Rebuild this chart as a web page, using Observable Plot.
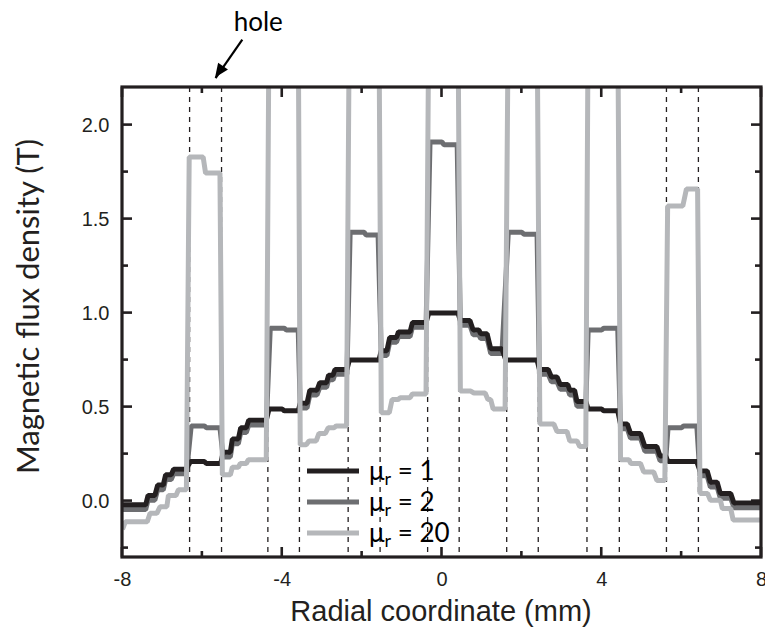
<!DOCTYPE html>
<html><head><meta charset="utf-8">
<script src="https://cdn.jsdelivr.net/npm/d3@7"></script>
<script src="https://cdn.jsdelivr.net/npm/@observablehq/plot@0.6"></script>
<style>
body{margin:0;background:#fff;}
#chart{width:765px;height:642px;}
</style></head><body><div id="chart"></div>
<script>
// ---- data ----
const seriesNames = ["μr = 1", "μr = 2", "μr = 20"];
const seriesColors = ["#231f20", "#6d6e71", "#b5b7ba"];
// plateaus: [x start (mm), x end (mm), B (T)]
const mu1 = [
  [-8.00,-7.42,-0.02],[-7.36,-7.19,0.03],[-7.12,-6.98,0.085],[-6.92,-6.78,0.14],[-6.72,-6.40,0.17],
  [-6.30,-5.95,0.21],[-5.90,-5.54,0.20],
  [-5.48,-5.30,0.26],[-5.25,-5.10,0.33],[-5.04,-4.90,0.39],[-4.84,-4.40,0.43],
  [-4.33,-4.00,0.49],[-3.95,-3.60,0.48],
  [-3.55,-3.38,0.52],[-3.31,-3.13,0.59],[-3.06,-2.89,0.63],[-2.84,-2.73,0.67],[-2.68,-2.38,0.70],
  [-2.32,-1.58,0.75],
  [-1.52,-1.38,0.80],[-1.31,-1.14,0.87],[-1.09,-0.80,0.90],[-0.74,-0.40,0.95],
  [-0.33,0.40,1.00],
  [0.46,0.70,0.96],[0.78,0.92,0.91],[0.97,1.13,0.89],[1.22,1.50,0.81],
  [1.60,2.38,0.75],
  [2.44,2.66,0.70],[2.74,2.88,0.66],[2.96,3.15,0.62],[3.20,3.32,0.59],[3.38,3.60,0.53],
  [3.66,4.00,0.49],[4.05,4.40,0.48],
  [4.47,4.64,0.41],[4.72,4.97,0.36],[5.08,5.38,0.29],[5.46,5.60,0.24],
  [5.66,6.38,0.21],
  [6.46,6.64,0.16],[6.72,6.89,0.10],[6.97,7.23,0.04],[7.31,8.00,-0.01]
];
const mu2 = [
  [-8.00,-7.42,-0.045],[-7.36,-7.19,0.005],[-7.12,-6.98,0.06],[-6.92,-6.78,0.115],[-6.72,-6.40,0.145],
  [-6.28,-5.95,0.40],[-5.90,-5.56,0.39],
  [-5.48,-5.30,0.235],[-5.25,-5.10,0.305],[-5.04,-4.90,0.365],[-4.84,-4.40,0.405],
  [-4.30,-3.95,0.92],[-3.90,-3.60,0.91],
  [-3.55,-3.38,0.495],[-3.31,-3.13,0.565],[-3.06,-2.89,0.605],[-2.84,-2.73,0.645],[-2.68,-2.38,0.675],
  [-2.30,-1.95,1.43],[-1.90,-1.60,1.415],
  [-1.52,-1.38,0.775],[-1.31,-1.14,0.845],[-1.09,-0.80,0.875],[-0.74,-0.40,0.925],
  [-0.30,0.00,1.91],[0.05,0.38,1.895],
  [0.46,0.70,0.935],[0.78,0.92,0.885],[0.97,1.13,0.865],[1.22,1.50,0.785],
  [1.66,2.00,1.43],[2.05,2.38,1.42],
  [2.44,2.66,0.675],[2.74,2.88,0.635],[2.96,3.15,0.595],[3.20,3.32,0.565],[3.38,3.60,0.505],
  [3.66,4.00,0.91],[4.05,4.40,0.92],
  [4.47,4.64,0.385],[4.72,4.97,0.335],[5.08,5.38,0.265],[5.46,5.60,0.215],
  [5.66,6.00,0.39],[6.05,6.38,0.40],
  [6.46,6.64,0.135],[6.72,6.89,0.075],[6.97,7.23,0.015],[7.31,8.00,-0.035]
];
const mu20 = [
  [-8.00,-8.00,-0.15],[-7.93,-7.38,-0.11],[-7.31,-7.14,-0.065],[-7.06,-6.89,-0.03],[-6.85,-6.66,0.03],[-6.60,-6.40,0.06],
  [-6.33,-5.98,1.83],[-5.92,-5.56,1.745],
  [-5.50,-5.30,0.14],[-5.25,-5.10,0.18],[-5.05,-4.90,0.20],[-4.85,-4.40,0.22],
  [-4.33,-3.60,2.60],
  [-3.55,-3.40,0.30],[-3.33,-3.15,0.32],[-3.08,-2.92,0.36],[-2.85,-2.70,0.39],[-2.65,-2.39,0.40],
  [-2.32,-1.58,2.60],
  [-1.52,-1.32,0.47],[-1.25,-1.10,0.54],[-1.05,-0.80,0.55],[-0.74,-0.40,0.57],
  [-0.33,0.40,2.60],
  [0.46,0.72,0.585],[0.80,1.08,0.575],[1.15,1.22,0.54],[1.28,1.58,0.49],
  [1.66,2.38,2.60],
  [2.45,2.80,0.41],[2.88,3.13,0.37],[3.20,3.38,0.32],[3.45,3.60,0.29],
  [3.66,4.40,2.60],
  [4.47,4.68,0.22],[4.73,4.97,0.20],[5.05,5.30,0.155],[5.38,5.58,0.11],
  [5.65,6.03,1.57],[6.12,6.40,1.66],
  [6.46,6.65,0.04],[6.72,6.97,0.005],[7.02,7.23,-0.04],[7.29,8.00,-0.10]
];
const holeEdges = [-6.32,-5.52,-4.36,-3.57,-2.35,-1.55,-0.36,0.43,1.62,2.41,3.63,4.44,5.62,6.42];
const xDomain = [-8, 8];
const yDomain = [-0.3, 2.2];
const xMajor = [-8,-4,0,4,8];
const xMinor = [-6,-2,2,6];
const yMajor = [0,0.5,1,1.5,2];
const yMinor = [-0.25,0.25,0.75,1.25,1.75];
const xLabel = "Radial coordinate (mm)";
const yLabel = "Magnetic flux density (T)";
const holeNote = [{label:"hole", x:-4.6, y:2.545}];
const holeArrow = [{x1:-5.0, y1:2.455, x2:-5.67, y2:2.25}];

// ---- build ----
const toRows = (pl, s) => pl.flatMap(([a,b,v]) => [{x:a, B:v, s}, {x:b, B:v, s}]);
const rows = [toRows(mu1,0), toRows(mu2,1), toRows(mu20,2)];

const W=765, H=642, mL=122, mR=4, mT=87, mB=85;
const ink = "#231f20";
const lineOpts = i => ({x:"x", y:"B", stroke: seriesColors[i], strokeWidth:5, strokeLinejoin:"miter", strokeLinecap:"butt", clip:true});

const chart = Plot.plot({
  width:W, height:H, marginLeft:mL, marginRight:mR, marginTop:mT, marginBottom:mB,
  x:{domain:xDomain},
  y:{domain:yDomain},
  style:{fontFamily:"'Liberation Sans', Arial, sans-serif", fontSize:"20px", color:ink, background:"#fff", overflow:"visible"},
  marks:[
    Plot.ruleX(holeEdges, {x:d=>d, stroke:ink, strokeWidth:1.3, strokeDasharray:"5,5"}),
    Plot.line(rows[1], lineOpts(1)),
    Plot.line(rows[0], lineOpts(0)),
    Plot.line(rows[2], lineOpts(2)),
    Plot.axisX(xMajor, {anchor:"bottom", tickSize:0, tickPadding:14, tickFormat:d=>String(d), label:null, fontSize:20}),
    Plot.axisY(yMajor, {anchor:"left", tickSize:0, tickPadding:13, tickFormat:d3.format(".1f"), label:null, fontSize:20}),
    Plot.text([xLabel], {frameAnchor:"bottom", dx:-1, dy:63, fontSize:29, fill:ink}),
    Plot.text([yLabel], {frameAnchor:"left", textAnchor:"middle", dx:-93, dy:-16, rotate:-90, fontSize:31, fill:ink, fontFamily:"Lato, 'Open Sans', sans-serif"}),
    Plot.link(holeArrow, {x1:"x1", y1:"y1", x2:"x2", y2:"y2", stroke:"#000", strokeWidth:2.2, clip:false}),
    Plot.text(holeNote, {x:"x", y:"y", text:"label", fontSize:26, fill:"#000", fontFamily:"Lato, 'Open Sans', sans-serif", clip:false})
  ]
});

const svg = d3.select(chart);
const sx = chart.scale("x"), sy = chart.scale("y");
const X = v => sx.apply(v), Y = v => sy.apply(v);
const x0 = X(xDomain[0]), x1 = X(xDomain[1]), y0 = Y(yDomain[0]), y1 = Y(yDomain[1]);

// inward ticks on all four sides + heavy frame, placed through the plot's scales
const axes = svg.append("g").attr("stroke", ink).attr("fill", "none");
const tick = (len, list, horiz) => list.forEach(v => {
  if (horiz) {
    axes.append("line").attr("x1", x0).attr("x2", x0 + len).attr("y1", Y(v)).attr("y2", Y(v)).attr("stroke-width", 2.6);
    axes.append("line").attr("x1", x1).attr("x2", x1 - len).attr("y1", Y(v)).attr("y2", Y(v)).attr("stroke-width", 2.6);
  } else {
    axes.append("line").attr("y1", y0).attr("y2", y0 - len).attr("x1", X(v)).attr("x2", X(v)).attr("stroke-width", 2.6);
    axes.append("line").attr("y1", y1).attr("y2", y1 + len).attr("x1", X(v)).attr("x2", X(v)).attr("stroke-width", 2.6);
  }
});
tick(10, yMajor, true); tick(6, yMinor, true);
tick(10, xMajor, false); tick(6, xMinor, false);
axes.append("rect").attr("x", x0).attr("y", y1).attr("width", x1 - x0).attr("height", y0 - y1).attr("stroke-width", 3.2);

// filled arrow head at the arrow's end
holeArrow.forEach(a => {
  const X1 = X(a.x1), Y1 = Y(a.y1), X2 = X(a.x2), Y2 = Y(a.y2);
  const ang = Math.atan2(Y2 - Y1, X2 - X1), L = 14, hw = 6;
  const bx = X2 - L*Math.cos(ang), by = Y2 - L*Math.sin(ang);
  const px = -Math.sin(ang)*hw, py = Math.cos(ang)*hw;
  svg.append("polygon")
    .attr("points", `${X2},${Y2} ${bx+px},${by+py} ${bx-px},${by-py}`)
    .attr("fill", "#000");
});

// legend inside the plot area
const leg = svg.append("g").attr("font-family","Lato, 'Open Sans', sans-serif").attr("font-size",26)
  .attr("fill","#000").attr("text-anchor","start");
const legX = mL + 185, legY = mT + 384, legStep = 31;
seriesNames.forEach((name, i) => {
  const y = legY + i*legStep;
  leg.append("line").attr("x1",legX).attr("x2",legX+52).attr("y1",y).attr("y2",y)
     .attr("stroke",seriesColors[i]).attr("stroke-width",5);
  const t = leg.append("text").attr("x",legX+62).attr("y",y+9);
  t.append("tspan").text(name.slice(0,1));
  t.append("tspan").attr("font-size",18).attr("dy",5).text(name.slice(1,2));
  t.append("tspan").attr("dy",-5).text(name.slice(2));
});

document.getElementById("chart").appendChild(chart);
</script>
</body></html>
